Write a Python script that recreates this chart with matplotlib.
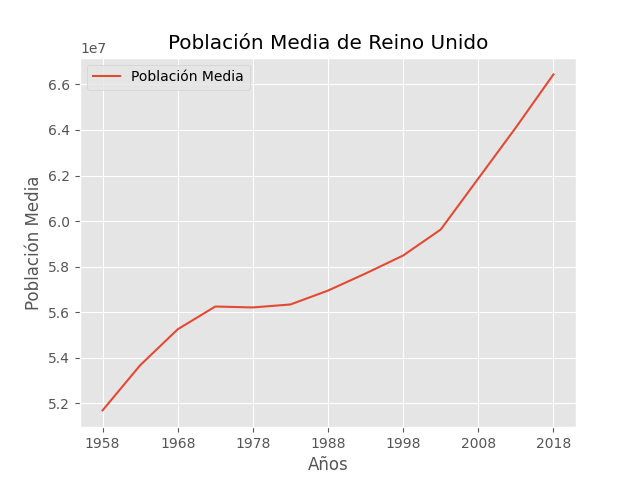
import matplotlib
matplotlib.use("Agg")
import matplotlib.pyplot as plt

plt.style.use("ggplot")

years = [1958, 1963, 1968, 1973, 1978, 1983, 1988, 1993, 1998, 2003, 2008, 2013, 2018]
poblacion = [5.169e7, 5.367e7, 5.525e7, 5.625e7, 5.621e7, 5.634e7, 5.695e7,
             5.770e7, 5.849e7, 5.963e7, 6.187e7, 6.411e7, 6.644e7]
ticks = [1958, 1968, 1978, 1988, 1998, 2008, 2018]

fig, ax = plt.subplots(figsize=(6.4, 4.8), dpi=100)
ax.plot(years, poblacion, label="Población Media")
ax.set_xticks(ticks)
ax.set_title("Población Media de Reino Unido")
ax.set_xlabel("Años")
ax.set_ylabel("Población Media")
ax.legend(loc="upper left")

fig.savefig("out.png")
